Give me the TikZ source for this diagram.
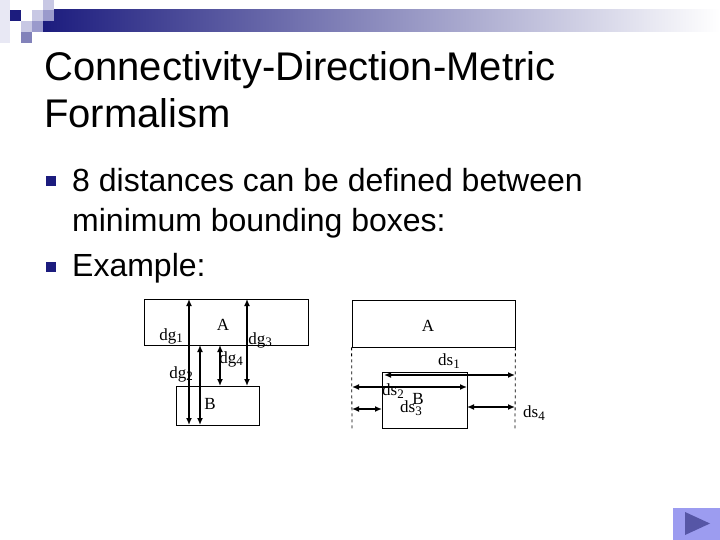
\documentclass[tikz,border=0pt]{standalone}
\usepackage{fontspec}
\setmainfont{Liberation Sans}
\newfontfamily\timesfont{Liberation Serif}
\usetikzlibrary{arrows.meta}

\definecolor{navyblue}{HTML}{1C1C7E}
\definecolor{palelav}{HTML}{E8E8F4}
\definecolor{lightlav}{HTML}{C8C8E4}
\definecolor{midlav}{HTML}{9A9ACC}
\definecolor{slatelav}{HTML}{8282BA}
\definecolor{buttonblue}{HTML}{9C9CF0}
\definecolor{buttondark}{HTML}{5656A6}

% lowered subscript as in the slide
\newcommand{\distsub}[1]{\raisebox{-0.35ex}{\fontsize{13}{13}\selectfont #1}}

\tikzset{
    mbr/.style={draw, line width=0.8pt, inner sep=0pt},
    dist/.style={{Latex[length=7pt,width=6pt]}-{Latex[length=7pt,width=6pt]}, line width=2pt},
    guide/.style={dashed, line width=0.8pt},
    lbl/.style={font=\timesfont\fontsize{17}{17}\selectfont, inner sep=0pt},
    sq/.style={inner sep=0pt, minimum size=11pt, anchor=north west}
}

\begin{document}
\begin{tikzpicture}[x=1pt,y=-1pt]

% page size
\useasboundingbox (0,0) rectangle (720,540);

% header bar with the small squares
\shade[left color=navyblue, middle color=black!5!blue!5!gray!60, right color=white]
    (43,10) rectangle (720,32);
\node[sq, fill=palelav, minimum height=43pt, minimum width=10pt] (sq0) at (0,0) {};
\node[sq, fill=navyblue] (sq1) at (10,10) {};
\node[sq, fill=white] (sq2) at (21,10) {};
\node[sq, fill=lightlav] (sq3) at (32,10) {};
\node[sq, fill=lightlav] (sq4) at (43,0) {};
\node[sq, fill=midlav] (sq5) at (43,10) {};
\node[sq, fill=lightlav] (sq6) at (21,21) {};
\node[sq, fill=midlav] (sq7) at (32,21) {};
\node[sq, fill=slatelav] (sq8) at (21,32) {};

% title
\node[anchor=base west, inner sep=0pt,
    font=\fontsize{40}{48}\selectfont] (title1) at (44,81) {Connectivity-Direction-Metric};
\node[anchor=base west, inner sep=0pt,
    font=\fontsize{40}{48}\selectfont] (title2) at (44,128) {Formalism};

% bullets
\node[fill=navyblue, inner sep=0pt, minimum size=10pt] (bul1) at (51,181) {};
\node[fill=navyblue, inner sep=0pt, minimum size=10pt] (bul2) at (51,267) {};
\node[anchor=base west, inner sep=0pt,
    font=\fontsize{32}{38}\selectfont] (item1) at (72,192) {8 distances can be defined between};
\node[anchor=base west, inner sep=0pt,
    font=\fontsize{32}{38}\selectfont] (item1b) at (72,232) {minimum bounding boxes:};
\node[anchor=base west, inner sep=0pt,
    font=\fontsize{32}{38}\selectfont] (item2) at (72,276) {Example:};

% left example: general distances
\node[mbr, minimum width=164pt, minimum height=46pt] (gA) at (226,322) {};
\node[mbr, minimum width=83pt, minimum height=39pt] (gB) at (217.5,405.5) {};
\node[lbl] (gAname) at (223,325) {A};
\node[lbl] (gBname) at (210,404) {B};

\coordinate (dg1top) at (189,299);
\coordinate (dg1bot) at (189,425);
\coordinate (dg2top) at (200,345);
\coordinate (dg2bot) at (200,425);
\coordinate (dg3top) at (247,299);
\coordinate (dg3bot) at (247,386);
\coordinate (dg4top) at (220,345);
\coordinate (dg4bot) at (220,386);
\draw[dist] (dg1top) -- (dg1bot);
\draw[dist] (dg2top) -- (dg2bot);
\draw[dist] (dg3top) -- (dg3bot);
\draw[dist] (dg4top) -- (dg4bot);

\node[lbl] (dg1) at (171,336) {dg\distsub{1}};
\node[lbl] (dg2) at (181,374) {dg\distsub{2}};
\node[lbl] (dg3) at (260,340) {dg\distsub{3}};
\node[lbl] (dg4) at (231,359) {dg\distsub{4}};

% right example: specific distances
\node[mbr, minimum width=163pt, minimum height=47pt] (sA) at (433.5,323.5) {};
\node[mbr, minimum width=85pt, minimum height=56pt] (sB) at (424.5,400) {};
\node[lbl] (sAname) at (428,326) {A};
\node[lbl] (sBname) at (418,399) {B};

\coordinate (leftguide) at (352,430);
\coordinate (rightguide) at (515,430);
\draw[guide] (sA.south west) -- (leftguide);
\draw[guide] (sA.south east) -- (rightguide);

\coordinate (ds1a) at (384,375);
\coordinate (ds1b) at (515,375);
\coordinate (ds2a) at (352,387);
\coordinate (ds2b) at (467,387);
\coordinate (ds3a) at (352,409);
\coordinate (ds3b) at (382,409);
\coordinate (ds4a) at (467,407);
\coordinate (ds4b) at (515,407);
\draw[dist] (ds1a) -- (ds1b);
\draw[dist] (ds2a) -- (ds2b);
\draw[dist] (ds3a) -- (ds3b);
\draw[dist] (ds4a) -- (ds4b);

\node[lbl] (ds1) at (449,361) {ds\distsub{1}};
\node[lbl] (ds2) at (393,391) {ds\distsub{2}};
\node[lbl] (ds3) at (411,408) {ds\distsub{3}};
\node[lbl] (ds4) at (534,413) {ds\distsub{4}};

% next button
\node[fill=buttonblue, inner sep=0pt, minimum width=47pt, minimum height=32pt,
    anchor=north west] (nextbtn) at (673,508) {};
\fill[buttondark] (685,512) -- (685,535) -- (710,523.5) -- cycle;

\end{tikzpicture}
\end{document}
